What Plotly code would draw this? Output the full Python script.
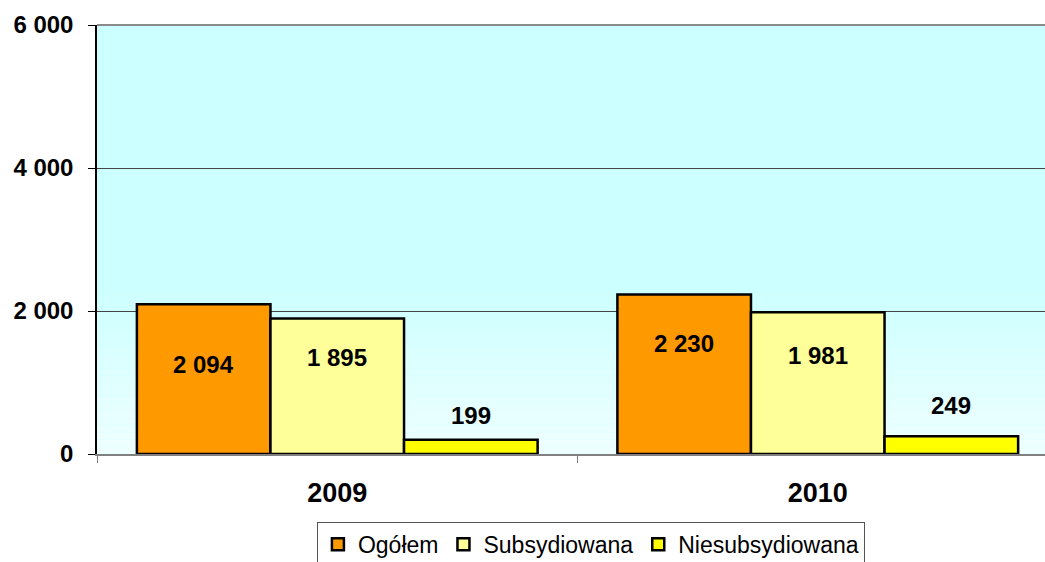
import plotly.graph_objects as go

years = ["2009", "2010"]
series_names = ["Ogółem", "Subsydiowana", "Niesubsydiowana"]
ogolem = [2094, 2230]
subsydiowana = [1895, 1981]
niesubsydiowana = [199, 249]
value_labels = [["2 094", "2 230"], ["1 895", "1 981"], ["199", "249"]]
y_ticks = [0, 2000, 4000, 6000]
y_tick_labels = ["0", "2 000", "4 000", "6 000"]

colors = ["#FF9900", "#FFFF99", "#FFFF00"]
label_shift = [[-60, -49], [-39, -43], [24, 31]]  # pixel offsets of value labels (style)

FONT = "Arial, Liberation Sans, sans-serif"
BARGAP = 0.166

fig = go.Figure()
all_series = [ogolem, subsydiowana, niesubsydiowana]
for name, vals, col in zip(series_names, all_series, colors):
    fig.add_trace(go.Bar(
        x=years, y=vals, name=name,
        marker=dict(color=col, line=dict(color="#000000", width=2.5)),
        hoverinfo="skip",
    ))

# value labels
bw = (1 - BARGAP) / 3
for si, (vals, labs) in enumerate(zip(all_series, value_labels)):
    for ci, (v, lab) in enumerate(zip(vals, labs)):
        fig.add_annotation(
            x=ci + (si - 1) * bw, y=v, xref="x", yref="y",
            text="<b>%s</b>" % lab, showarrow=False,
            yshift=label_shift[si][ci], yanchor="middle",
            font=dict(family=FONT, size=24, color="#000000"),
        )

# background gradient (style)
shapes = []
n = 24
top_c = (204, 255, 255)
bot_c = (238, 255, 255)
g_top = 0.40
for i in range(n):
    y0 = g_top * i / n
    y1 = g_top * (i + 1) / n
    t = i / (n - 1)
    c = tuple(int(round(bot_c[k] + (top_c[k] - bot_c[k]) * t)) for k in range(3))
    shapes.append(dict(type="rect", xref="paper", yref="paper", x0=0, x1=1, y0=y0, y1=y1,
                       fillcolor="rgb(%d,%d,%d)" % c, line=dict(width=0), layer="below"))
# top border
shapes.append(dict(type="line", xref="paper", yref="paper", x0=0, x1=1, y0=1, y1=1,
                   line=dict(color="#8a8a8a", width=2), layer="above"))

fig.update_layout(
    width=1045, height=562,
    margin=dict(l=97, r=0, t=25, b=108, autoexpand=False),
    paper_bgcolor="#FFFFFF",
    plot_bgcolor="#CCFFFF",
    barmode="group", bargap=BARGAP, bargroupgap=0,
    shapes=shapes,
    showlegend=True,
    legend=dict(
        orientation="h", x=0.521, xanchor="center", y=-0.158, yanchor="top",
        bgcolor="#FFFFFF", bordercolor="#555555", borderwidth=1,
        font=dict(family=FONT, size=23, color="#000000"),
        traceorder="normal",
    ),
    xaxis=dict(
        type="category", range=[-0.5, 1.5 - 13 / 480],
        showline=True, linecolor="#808080", linewidth=2,
        ticks="outside", tickson="boundaries", ticklen=7, tickcolor="#808080",
        tickfont=dict(family=FONT, size=27, color="#000000"),
        ticklabelstandoff=14,
        tickvals=years, ticktext=["<b>%s</b>" % y for y in years],
        showgrid=False, zeroline=False, fixedrange=True,
    ),
    yaxis=dict(
        range=[0, 6000], tickvals=y_ticks,
        ticktext=["<b>%s</b>" % t for t in y_tick_labels],
        showline=True, linecolor="#000000", linewidth=1.5,
        ticks="outside", ticklen=7, tickcolor="#000000",
        tickfont=dict(family=FONT, size=24, color="#000000"),
        ticklabelstandoff=10,
        showgrid=True, gridcolor="#444444", gridwidth=1,
        zeroline=False, fixedrange=True,
    ),
)

fig.write_html(
    "out.html",
    config={"displayModeBar": False},
    post_script="document.body.style.margin='0';document.body.style.overflow='hidden';",
)
